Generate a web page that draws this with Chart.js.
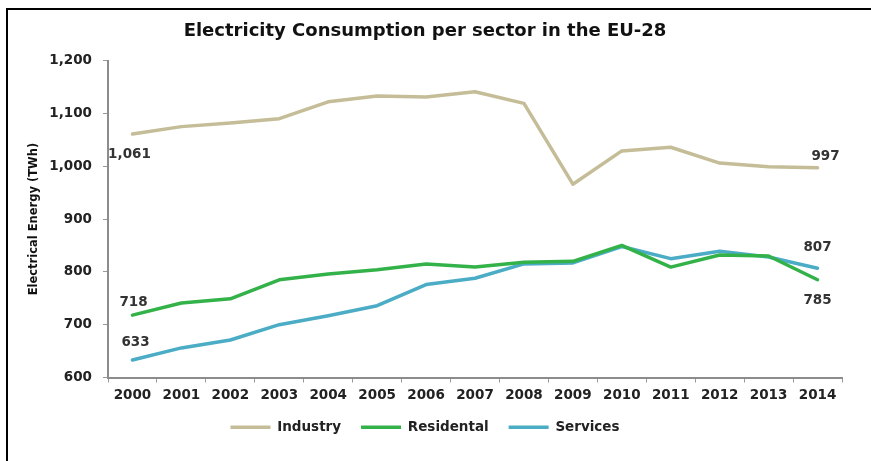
<!DOCTYPE html>
<html>
<head>
<meta charset="utf-8">
<title>Electricity Consumption per sector in the EU-28</title>
<script src="https://cdn.jsdelivr.net/npm/chart.js@4.4.1/dist/chart.umd.min.js"></script>
<style>
    html, body { margin: 0; padding: 0; background: #fff; overflow: hidden; }
    #wrap { position: relative; width: 871px; height: 461px; overflow: hidden; }
    #frame { position: absolute; left: 6px; top: 8px; width: 900px; height: 500px; border: 2px solid #000; }
    #chart { position: absolute; left: 0; top: 0; }
</style>
</head>
<body>
<div id="wrap">
    <canvas id="chart" width="871" height="461"></canvas>
    <div id="frame"></div>
</div>
<script>
// Data
const years = ["2000", "2001", "2002", "2003", "2004", "2005", "2006", "2007",
               "2008", "2009", "2010", "2011", "2012", "2013", "2014"];
const industry    = [1061, 1075, 1082, 1090, 1122, 1133, 1131, 1141, 1119, 966, 1029, 1036, 1006, 999, 997];
const residential = [718, 741, 749, 785, 796, 804, 815, 809, 818, 820, 850, 809, 832, 830, 785];
const services    = [633, 656, 671, 700, 717, 736, 776, 788, 815, 817, 848, 825, 839, 828, 807];
const yTicks = [600, 700, 800, 900, 1000, 1100, 1200];

// Which points carry a value label (dataset index, point index)
const labelled = [
    { ds: 0, i: 0, dx: -3, dy: 20 },
    { ds: 0, i: 14, dx: 8, dy: -11 },
    { ds: 1, i: 0, dx: 1, dy: -13 },
    { ds: 1, i: 14, dx: 0, dy: 21 },
    { ds: 2, i: 0, dx: 3, dy: -18 },
    { ds: 2, i: 14, dx: 0, dy: -21 }
];

const tickFont = { family: "'DejaVu Sans'", size: 13.5, weight: "bold" };
const fmt = v => v.toLocaleString("en-US");

// Draw the value labels next to the first and last points
const valueLabels = {
    id: "valueLabels",
    afterDatasetsDraw(chart) {
        const ctx = chart.ctx;
        const xs = chart.scales.x;
        const ys = chart.scales.y;
        ctx.save();
        ctx.font = "bold 13.5px 'DejaVu Sans'";
        ctx.fillStyle = "#333";
        ctx.textAlign = "center";
        ctx.textBaseline = "middle";
        labelled.forEach(l => {
            const v = chart.data.datasets[l.ds].data[l.i];
            const px = xs.getPixelForValue(l.i) + l.dx;
            const py = ys.getPixelForValue(v) + l.dy;
            ctx.fillText(fmt(v), px, py);
        });
        ctx.restore();
    }
};

const ctx = document.getElementById("chart").getContext("2d");
new Chart(ctx, {
    type: "line",
    data: {
        labels: years,
        datasets: [
            { label: "Industry", data: industry, borderColor: "#c4bd97", backgroundColor: "#c4bd97", borderWidth: 3.5 },
            { label: "Residental", data: residential, borderColor: "#34b24a", backgroundColor: "#34b24a", borderWidth: 3.5 },
            { label: "Services", data: services, borderColor: "#4bacc6", backgroundColor: "#4bacc6", borderWidth: 3.5 }
        ]
    },
    options: {
        responsive: false,
        animation: false,
        devicePixelRatio: 1,
        elements: {
            point: { radius: 0, hoverRadius: 0 },
            line: { tension: 0, borderJoinStyle: "round", borderCapStyle: "round" }
        },
        layout: { padding: { left: 8, right: 29, top: 0, bottom: 17 } },
        plugins: {
            tooltip: { enabled: false },
            title: {
                display: true,
                text: "Electricity Consumption per sector in the EU-28",
                color: "#111",
                font: { family: "'DejaVu Sans'", size: 18, weight: "bold" },
                padding: { top: 21, bottom: 18 }
            },
            legend: {
                position: "bottom",
                labels: {
                    usePointStyle: true,
                    pointStyle: "line",
                    pointStyleWidth: 40,
                    boxHeight: 13,
                    padding: 20,
                    color: "#222",
                    font: { family: "'DejaVu Sans'", size: 13.5, weight: "bold" }
                }
            }
        },
        scales: {
            x: {
                offset: true,
                grid: { offset: true, drawOnChartArea: false, drawTicks: true, tickLength: 5, color: "#999" },
                border: { display: true, color: "#8c8c8c", width: 2 },
                ticks: { color: "#222", font: tickFont, padding: 5, maxRotation: 0, autoSkip: false },
                afterFit: s => { s.height = 23; }
            },
            y: {
                min: 600,
                max: 1200,
                afterBuildTicks: s => { s.ticks = yTicks.map(v => ({ value: v })); },
                grid: { drawOnChartArea: false, drawTicks: true, tickLength: 5, color: "#999" },
                border: { display: true, color: "#8c8c8c", width: 2 },
                ticks: { color: "#222", font: tickFont, padding: 11, callback: v => fmt(v) },
                title: {
                    display: true,
                    text: "Electrical Energy (TWh)",
                    color: "#111",
                    font: { family: "'DejaVu Sans'", size: 11.5, weight: "bold" },
                    padding: { top: 19, bottom: 0 }
                },
                afterFit: s => { s.width = 100; }
            }
        }
    },
    plugins: [valueLabels]
});
</script>
</body>
</html>
